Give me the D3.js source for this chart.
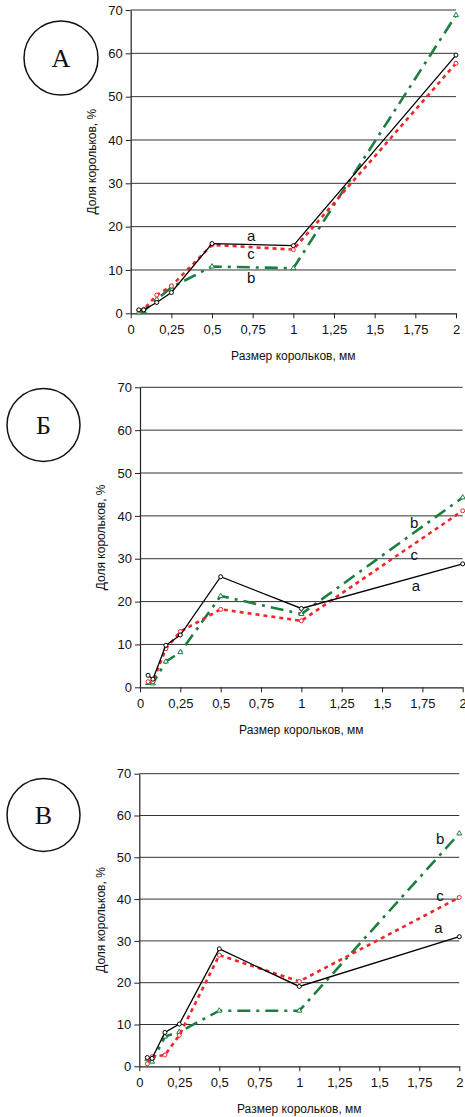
<!DOCTYPE html>
<html>
<head>
<meta charset="utf-8">
<script src="https://cdn.jsdelivr.net/npm/d3@7"></script>
<style>
body { margin: 0; background: #fff; }
svg text { font-family: "Liberation Sans", Arial, sans-serif; }
</style>
</head>
<body>
<div id="chart"></div>
<script>
// sieve sizes, mm
var sizes = [0.05, 0.08, 0.16, 0.25, 0.5, 1, 2];
var xTicks = [0, 0.25, 0.5, 0.75, 1, 1.25, 1.5, 1.75, 2];
var yTicks = [0, 10, 20, 30, 40, 50, 60, 70];

// panel A
var A_a = [0.8, 0.8, 2.5, 4.8, 16.1, 15.6, 59.6];
var A_b = [0.2, 0.5, 3.2, 6.0, 10.8, 10.4, 68.8];
var A_c = [0.7, 0.9, 4.2, 6.3, 15.8, 14.7, 57.7];
// panel Б
var B_a = [2.8, 1.9, 9.8, 12.2, 25.8, 18.4, 28.8];
var B_b = [1.0, 0.9, 6.0, 8.2, 21.3, 17.1, 44.3];
var B_c = [1.3, 1.3, 9.0, 13.0, 18.2, 15.5, 41.2];
// panel В
var V_a = [2.1, 1.9, 8.1, 10.1, 28.1, 19.1, 31.0];
var V_b = [1.7, 1.1, 7.1, 8.2, 13.3, 13.3, 55.7];
var V_c = [0.6, 2.3, 2.7, 7.4, 26.6, 20.3, 40.4];

// curve labels [x, y] in data units
var A_labels = [["a", 0.74, 17.8], ["c", 0.74, 13.7], ["b", 0.74, 8.1]];
var B_labels = [["b", 1.70, 38.5], ["c", 1.70, 31.0], ["a", 1.71, 23.6]];
var V_labels = [["b", 1.88, 54.4], ["c", 1.88, 40.7], ["a", 1.87, 33.2]];

var xTitle = "Размер корольков, мм";
var yTitle = "Доля корольков, %";

var panels = [
    {letter: "А", a: A_a, b: A_b, c: A_c, labels: A_labels,
     left: 130.7, right: 456, top: 10, bottom: 313.3, cx: 61, cy: 58, r: 37, ytx: 92},
    {letter: "Б", a: B_a, b: B_b, c: B_c, labels: B_labels,
     left: 140, right: 462.7, top: 387.3, bottom: 687.3, cx: 43.5, cy: 425, r: 36.5, ytx: 101},
    {letter: "В", a: V_a, b: V_b, c: V_c, labels: V_labels,
     left: 139.3, right: 459.3, top: 773.7, bottom: 1066.3, cx: 43.5, cy: 815, r: 36.5, ytx: 101}
];

var fmt = function (d) { return String(d).replace('.', ','); };

var svg = d3.select("#chart").append("svg")
    .attr("width", 465)
    .attr("height", 1117);

var styles = {
    a: {color: "#000", width: 1.3, dash: null, marker: "circle"},
    c: {color: "#f0262b", width: 2.6, dash: "4,4", marker: "circle"},
    b: {color: "#1d7f3f", width: 2.6, dash: "13,6,3,6", marker: "triangle"}
};

panels.forEach(function (p) {
    var g = svg.append("g");

    var x = d3.scaleLinear().domain([0, 2]).range([p.left, p.right]);
    var y = d3.scaleLinear().domain([0, 70]).range([p.bottom, p.top]);

    // gridlines
    g.selectAll(".grid")
        .data(yTicks.filter(function (d) { return d > 0; }))
        .enter().append("line")
        .attr("x1", p.left).attr("x2", p.right)
        .attr("y1", function (d) { return y(d); })
        .attr("y2", function (d) { return y(d); })
        .attr("stroke", "#333").attr("stroke-width", 1);

    // axes
    var xAxis = g.append("g")
        .attr("transform", "translate(0," + p.bottom + ")")
        .call(d3.axisBottom(x).tickValues(xTicks).tickFormat(fmt).tickSize(5).tickSizeOuter(0));
    var yAxis = g.append("g")
        .attr("transform", "translate(" + p.left + ",0)")
        .call(d3.axisLeft(y).tickValues(yTicks).tickSize(5).tickSizeOuter(0));

    [xAxis, yAxis].forEach(function (ax) {
        ax.select(".domain").attr("stroke", "#222").attr("stroke-width", 1.2);
        ax.selectAll(".tick line").attr("stroke", "#222");
        ax.selectAll("text")
            .attr("fill", "#111")
            .style("font-size", "13px")
            .style("font-family", "'Liberation Sans', Arial, sans-serif");
    });
    xAxis.selectAll("text").attr("dy", "1em");
    yAxis.selectAll("text").attr("x", -8);

    // axis titles
    g.append("text")
        .attr("x", (p.left + p.right) / 2)
        .attr("y", p.bottom + 47)
        .attr("text-anchor", "middle")
        .style("font-size", "12px")
        .attr("fill", "#111")
        .text(xTitle);
    g.append("text")
        .attr("transform", "translate(" + p.ytx + "," + (p.top + p.bottom) / 2 + ") rotate(-90)")
        .attr("text-anchor", "middle")
        .attr("dy", "0.35em")
        .style("font-size", "12px")
        .attr("fill", "#111")
        .text(yTitle);

    // series: draw green, red, then black on top
    ["b", "c", "a"].forEach(function (key) {
        var st = styles[key];
        var pts = sizes.map(function (s, i) { return [s, p[key][i]]; });
        var line = d3.line()
            .x(function (d) { return x(d[0]); })
            .y(function (d) { return y(d[1]); });
        g.append("path")
            .datum(pts)
            .attr("d", line)
            .attr("fill", "none")
            .attr("stroke", st.color)
            .attr("stroke-width", st.width)
            .attr("stroke-dasharray", st.dash);

        if (st.marker === "circle") {
            g.selectAll(".m" + key)
                .data(pts)
                .enter().append("circle")
                .attr("cx", function (d) { return x(d[0]); })
                .attr("cy", function (d) { return y(d[1]); })
                .attr("r", 2)
                .attr("fill", "#fff")
                .attr("stroke", st.color)
                .attr("stroke-width", 1);
        } else {
            var tri = d3.symbol().type(d3.symbolTriangle).size(11);
            g.selectAll(".m" + key)
                .data(pts)
                .enter().append("path")
                .attr("d", tri)
                .attr("transform", function (d) {
                    return "translate(" + x(d[0]) + "," + y(d[1]) + ")";
                })
                .attr("fill", "#fff")
                .attr("stroke", st.color)
                .attr("stroke-width", 1);
        }
    });

    // curve labels
    g.selectAll(".lbl")
        .data(p.labels)
        .enter().append("text")
        .attr("x", function (d) { return x(d[1]); })
        .attr("y", function (d) { return y(d[2]); })
        .attr("text-anchor", "middle")
        .attr("dy", "0.35em")
        .style("font-size", "15px")
        .attr("fill", "#111")
        .text(function (d) { return d[0]; });

    // panel letter in circle
    g.append("circle")
        .attr("cx", p.cx).attr("cy", p.cy).attr("r", p.r)
        .attr("fill", "none").attr("stroke", "#111").attr("stroke-width", 1.5);
    g.append("text")
        .attr("x", p.cx).attr("y", p.cy)
        .attr("text-anchor", "middle")
        .attr("dy", "0.36em")
        .style("font-family", "'Liberation Serif', 'Times New Roman', serif")
        .style("font-size", "26px")
        .attr("fill", "#111")
        .text(p.letter);
});
</script>
</body>
</html>
